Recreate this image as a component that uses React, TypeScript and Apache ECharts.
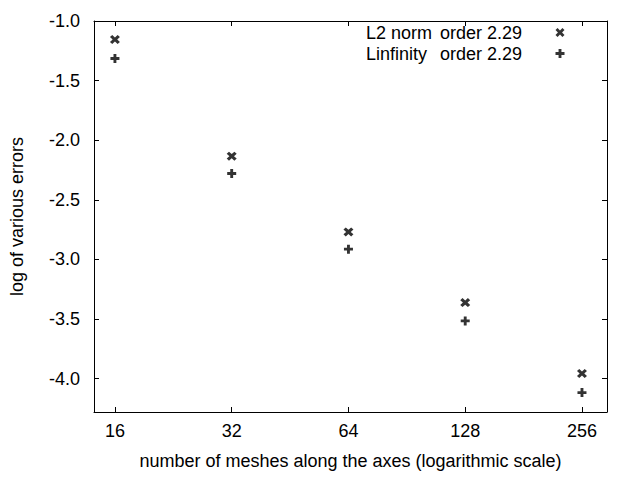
import React, { useEffect, useRef } from "react";
import * as echarts from "echarts";

const meshes = [16, 32, 64, 128, 256];
const l2Errors = [-1.155, -2.134, -2.769, -3.362, -3.957];
const linfErrors = [-1.315, -2.279, -2.914, -3.516, -4.117];
const seriesNames = ["L2 norm", "Linfinity"];
const orders = ["2.29", "2.29"];
const xTitle = "number of meshes along the axes (logarithmic scale)";
const yTitle = "log of various errors";

const crossPath =
  "path://M0,2.3 L2.3,0 L5,2.7 L7.7,0 L10,2.3 L7.3,5 L10,7.7 L7.7,10 L5,7.3 L2.3,10 L0,7.7 L2.7,5 Z";
const plusPath =
  "path://M3.4,0 H6.6 V3.4 H10 V6.6 H6.6 V10 H3.4 V6.6 H0 V3.4 H3.4 Z";

const FONT = "Liberation Sans, Arial, sans-serif";
const FS = 18;

export default function App() {
  const ref = useRef<HTMLDivElement>(null);
  useEffect(() => {
    document.body.style.margin = "0";
    if (!ref.current) return;
    const chart = echarts.init(ref.current, null, { renderer: "svg" });
    const axisCommon = {
      axisLine: { show: true, onZero: false, lineStyle: { color: "#000", width: 1 } },
      axisTick: { show: true, inside: true, length: 5, lineStyle: { color: "#000" } },
      splitLine: { show: false },
    };
    const xRange = { type: "log" as const, logBase: 2, min: 14.13, max: 297 };
    const yRange = { type: "value" as const, min: -4.28, max: -1.0 };
    const richBase = { fontSize: FS, fontFamily: FONT, color: "#000", lineHeight: 21, align: "left" };
    chart.setOption({
      animation: false,
      backgroundColor: "#fff",
      textStyle: { fontFamily: FONT },
      grid: { left: 92, right: 33, top: 21, bottom: 68, containLabel: false },
      legend: {
        orient: "vertical",
        right: 75.5,
        top: 22,
        padding: 0,
        itemGap: 0,
        align: "right",
        itemWidth: 9,
        itemHeight: 9,
        selectedMode: false,
        data: seriesNames,
        formatter: (name: string) => {
          const i = seriesNames.indexOf(name);
          return `{a|${name}}{b|order ${orders[i]}}`;
        },
        textStyle: {
          color: "#000",
          fontSize: FS,
          fontFamily: FONT,
          lineHeight: 21,
          rich: {
            a: { ...richBase, width: 74 },
            b: { ...richBase, width: 110.5 },
          },
        },
      },
      xAxis: [
        {
          ...xRange,
          ...axisCommon,
          position: "bottom",
          name: xTitle,
          nameLocation: "middle",
          nameGap: 40,
          nameTextStyle: { color: "#000", fontSize: FS, fontFamily: FONT },
          axisLabel: {
            color: "#000",
            fontSize: FS,
            fontFamily: FONT,
            margin: 10,
            showMinLabel: false,
            showMaxLabel: false,
            formatter: (v: number) => String(Math.round(v)),
          },
        },
        {
          ...xRange,
          ...axisCommon,
          position: "top",
          axisLabel: { show: false },
        },
      ],
      yAxis: [
        {
          ...yRange,
          ...axisCommon,
          position: "left",
          name: yTitle,
          nameLocation: "middle",
          nameGap: 68,
          nameTextStyle: { color: "#000", fontSize: FS, fontFamily: FONT },
          axisLabel: {
            color: "#000",
            fontSize: FS,
            fontFamily: FONT,
            margin: 14,
            showMinLabel: false,
            formatter: (v: number) => v.toFixed(1),
          },
        },
        {
          ...yRange,
          ...axisCommon,
          position: "right",
          axisLabel: { show: false },
        },
      ],
      series: [
        {
          name: seriesNames[0],
          type: "scatter",
          symbol: crossPath,
          symbolSize: [10, 9],
          itemStyle: { color: "#000" },
          data: meshes.map((m, i) => [m, l2Errors[i]]),
        },
        {
          name: seriesNames[1],
          type: "scatter",
          symbol: plusPath,
          symbolSize: [9, 9],
          itemStyle: { color: "#000" },
          data: meshes.map((m, i) => [m, linfErrors[i]]),
        },
      ],
    });
    return () => chart.dispose();
  }, []);
  return <div ref={ref} style={{ width: 640, height: 480 }} />;
}
